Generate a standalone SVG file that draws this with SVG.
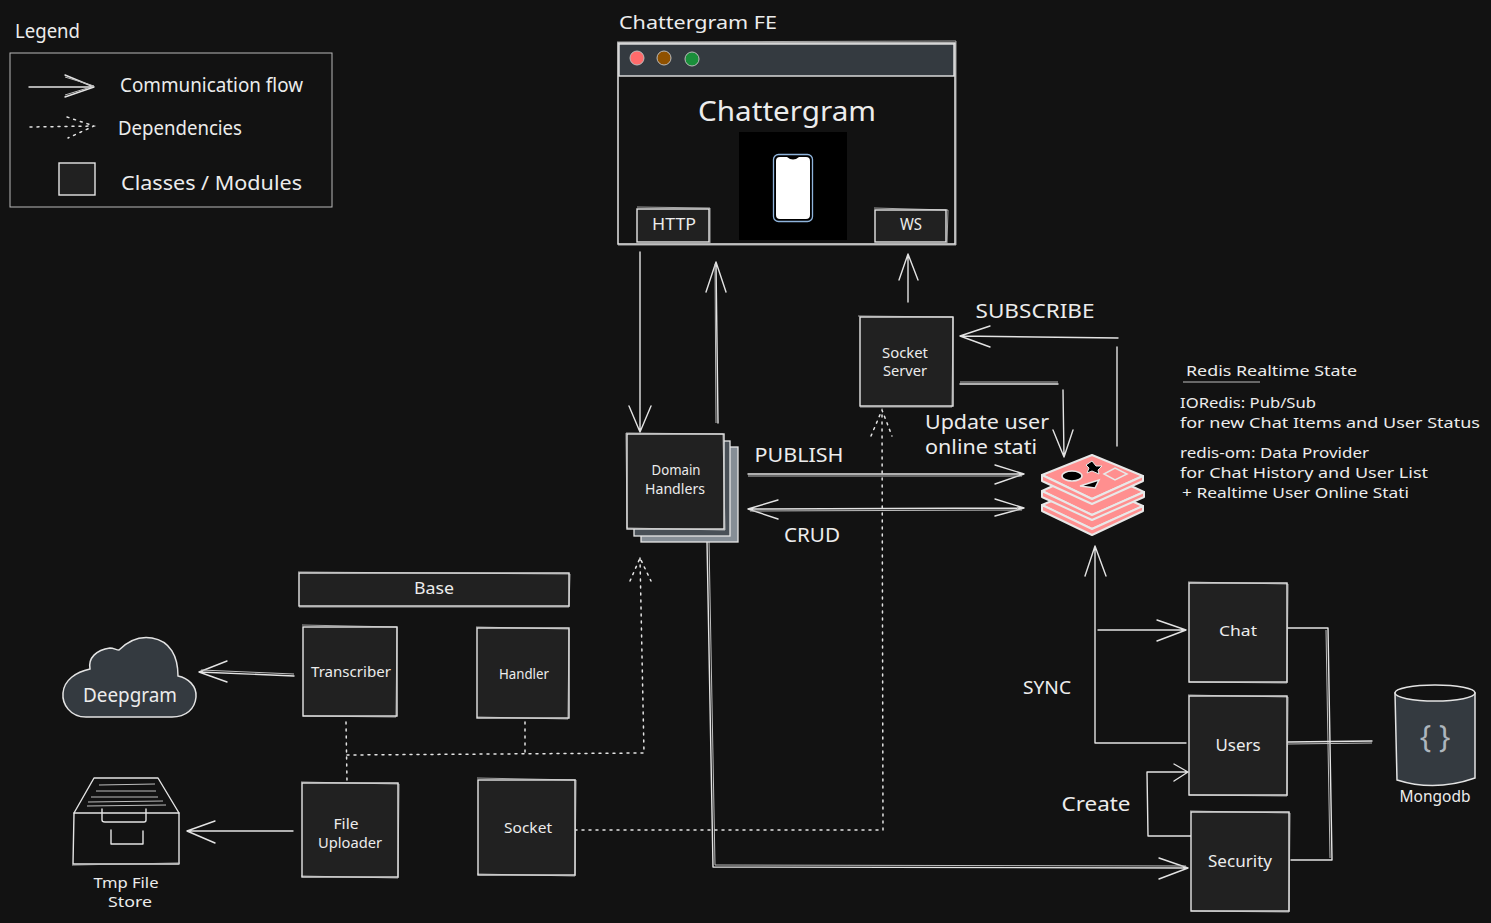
<svg xmlns="http://www.w3.org/2000/svg" width="1491" height="923" viewBox="0 0 1491 923">
<style>
text{font-family:"Noto Sans","Liberation Sans",sans-serif;fill:#ececec;font-size:17px;text-anchor:middle}
.l{text-anchor:start}
.n{font-size:15px}
.box{fill:#212121;stroke:#e6e6e6;stroke-width:1.4}
.sk{fill:none;stroke:#d8d8d8;stroke-width:1;opacity:.75}
.c{fill:none;stroke:#e3e3e3;stroke-width:1.4;stroke-linejoin:round;stroke-linecap:round}
.c2{fill:none;stroke:#bdbdbd;stroke-width:1;stroke-linejoin:round}
.d{fill:none;stroke:#e3e3e3;stroke-width:1.5;stroke-dasharray:2 5;stroke-linecap:round}
.ic{fill:#343a40;stroke:#e3e3e3;stroke-width:1.5}
.rp{fill:#ff8f8f;stroke:#e8e8e8;stroke-width:2;stroke-linejoin:round}
</style>
<rect width="1491" height="923" fill="#121212"/>

<g id="legend">
<text class="l" x="15" y="38" style="font-size:20px" textLength="65" lengthAdjust="spacingAndGlyphs">Legend</text>
<rect x="10" y="53" width="322" height="154" fill="none" stroke="#b8b8b8" stroke-width="1"/>
<path class="c" d="M29 87L94 87M65 75L94 87L65 97"/><path class="c2" d="M65 77L94 86L65 95"/>
<path class="d" d="M30 127L94 126M67 117L94 126L68 138"/>
<rect class="box" x="59" y="163" width="36" height="32"/>
<text class="l" x="120" y="92" style="font-size:20px" textLength="183" lengthAdjust="spacingAndGlyphs">Communication flow</text>
<text class="l" x="118" y="135" style="font-size:20px" textLength="124" lengthAdjust="spacingAndGlyphs">Dependencies</text>
<text class="l" x="121" y="190" style="font-size:20px" textLength="181" lengthAdjust="spacingAndGlyphs">Classes / Modules</text>
</g>

<g id="connectors">
<path class="c" d="M640 252L640 432M629 406L640 432L651 406"/>
<path class="c" d="M718 423L716 262M706 292L716 262L726 292"/><path class="c2" d="M716 423L715 264"/>
<path class="c" d="M908 302L908 254M899 280L908 254L918 280"/>
<path class="c" d="M1117 446L1117 347M1118 338L960 336M990 326L960 336L990 347"/>
<path class="c" d="M960 384L1058 384M1063 390L1064 457M1053 430L1064 457L1073 430"/>
<path class="c2" d="M960 382L1058 382"/>
<path class="c" d="M748 474L1024 474M995 465L1024 474L995 484"/><path class="c2" d="M748 476L1022 476"/>
<path class="c" d="M748 509L1024 508M778 500L748 509L778 519M995 499L1024 508L995 516"/><path class="c2" d="M750 511L1022 510"/>
<path class="c" d="M707 541L713 867L1188 868M1159 858L1188 868L1159 879"/><path class="c2" d="M709 541L715 865L1186 866"/>
<path class="d" d="M346 722L347 782M347 755L644 753L640 558M630 581L640 558L651 581M525 722L525 755"/>
<path class="d" d="M575 830L883 830L882 410M871 436L882 410L892 436"/>
<path class="c" d="M294 676L199 672M227 661L199 672L227 682"/><path class="c2" d="M294 674L201 670"/>
<path class="c" d="M293 831L187 831M215 821L187 831L215 843"/>
<path class="c" d="M1186 743L1095 743L1095 546M1085 576L1095 546L1106 576"/>
<path class="c" d="M1098 630L1186 630M1157 620L1186 630L1157 641"/>
<path class="c" d="M1288 628L1328 628L1332 860L1291 860"/><path class="c2" d="M1326 630L1330 858"/>
<path class="c" d="M1288 742L1372 741"/><path class="c2" d="M1288 744L1372 743"/>
<path class="c" d="M1191 836L1148 836L1147 772L1188 772M1174 764L1188 772L1174 781"/>
<path class="c2" d="M1183 382L1260 382"/>
</g>

<g id="chattergram-fe">
<rect x="618" y="43" width="337" height="201" fill="#121212" stroke="#e6e6e6" stroke-width="1.5"/>
<path class="sk" d="M617 42L956 41L956 245L618 245"/>
<rect x="619" y="44" width="335" height="32" fill="#343a40" stroke="#e6e6e6" stroke-width="1.4"/>
<circle cx="637" cy="58" r="7" fill="#ff6b6b" stroke="#bbb"/>
<circle cx="664" cy="58" r="7" fill="#8f5100" stroke="#bbb"/>
<circle cx="692" cy="59" r="7" fill="#1a8f3a" stroke="#bbb"/>
<text class="l" x="619" y="29" style="font-size:18px" textLength="158" lengthAdjust="spacingAndGlyphs">Chattergram FE</text>
<text x="787" y="121" style="font-size:28px" textLength="178" lengthAdjust="spacingAndGlyphs">Chattergram</text>
<rect x="739" y="132" width="108" height="108" fill="#000"/>
<rect x="773.500" y="154.500" width="39" height="67" rx="5" fill="#000" stroke="#8fb4dc" stroke-width="1.300"/>
<path d="M780 157H787Q793 162 799 157H806Q810 157 810 161V215Q810 219 806 219H780Q776 219 776 215V161Q776 157 780 157Z" fill="#fff"/>
</g>
<g id="http"><rect class="box" x="637" y="209" width="72" height="33"/><path class="sk" d="M637 207L710 208L710 243"/><text x="674" y="230" textLength="44" lengthAdjust="spacingAndGlyphs">HTTP</text></g>
<g id="ws"><rect class="box" x="875" y="210" width="71" height="32"/><path class="sk" d="M874 208L948 210L947 243"/><text x="911" y="230" textLength="22" lengthAdjust="spacingAndGlyphs">WS</text></g>

<g id="socket-server"><rect class="box" x="860" y="317" width="93" height="89"/><path class="sk" d="M858 316L953 317L952 407L860 407"/>
<text x="905" y="358" style="font-size:14px" textLength="46" lengthAdjust="spacingAndGlyphs">Socket</text><text x="905" y="376" style="font-size:14px" textLength="44" lengthAdjust="spacingAndGlyphs">Server</text></g>

<g id="domain-handlers">
<rect x="641" y="447" width="97" height="95" fill="#868e96" stroke="#e6e6e6" stroke-width="1.3"/>
<rect x="634" y="441" width="96" height="95" fill="#495057" stroke="#e6e6e6" stroke-width="1.3"/>
<rect class="box" x="627" y="434" width="97" height="95"/><path class="sk" d="M626 433L723 434L725 530L627 528Z"/>
<text x="676" y="475" style="font-size:15px" textLength="49" lengthAdjust="spacingAndGlyphs">Domain</text><text x="675" y="494" style="font-size:15px" textLength="60" lengthAdjust="spacingAndGlyphs">Handlers</text></g>

<g id="redis">
<path class="rp" d="M1042 505L1092 484L1143 506L1092 529Z"/>
<path class="rp" d="M1042 511L1092 535L1143 511L1143 506L1092 529L1042 505Z"/>
<path class="rp" d="M1042 491L1092 468L1144 492L1092 515Z"/>
<path class="rp" d="M1042 497L1092 520L1144 497L1144 492L1092 515L1042 491Z" fill="#ffa8a8"/>
<path class="rp" d="M1042 475L1092 455L1143 476L1092 499Z"/>
<path class="rp" d="M1042 481L1092 504L1143 481L1143 476L1092 499L1042 475Z" fill="#ffa8a8"/>
<ellipse cx="1072" cy="476" rx="10" ry="5" fill="#000" stroke="#e8e8e8" stroke-width="1.500"/>
<path d="M1092 461L1096 466L1102 466L1098 470L1099 474L1092 471L1087 473L1089 468L1086 465Z" fill="#000" stroke="#e8e8e8"/>
<path d="M1104 474L1115 468L1127 474L1115 480Z" fill="#ff8f8f" stroke="#e8e8e8" stroke-width="1.500"/>
<path d="M1080 486L1099 480L1095 488Z" fill="#000" stroke="#e8e8e8" stroke-width="1.500"/>
</g>

<g id="base"><rect class="box" x="299" y="573" width="270" height="33"/><path class="sk" d="M298 572L570 574L569 607L299 607"/><text x="434" y="594" textLength="40" lengthAdjust="spacingAndGlyphs">Base</text></g>
<g id="transcriber"><rect class="box" x="303" y="627" width="94" height="89"/><path class="sk" d="M302 625L397 627L396 717L303 716"/><text x="351" y="677" style="font-size:15px" textLength="80" lengthAdjust="spacingAndGlyphs">Transcriber</text></g>
<g id="handler"><rect class="box" x="477" y="628" width="92" height="90"/><path class="sk" d="M476 627L569 629L568 719L477 717"/><text x="524" y="679" style="font-size:14px" textLength="50" lengthAdjust="spacingAndGlyphs">Handler</text></g>
<g id="file-uploader"><rect class="box" x="302" y="783" width="96" height="94"/><path class="sk" d="M301 782L399 784L398 878L301 876"/><text x="346" y="829" style="font-size:15px" textLength="25" lengthAdjust="spacingAndGlyphs">File</text><text x="350" y="848" style="font-size:15px" textLength="64" lengthAdjust="spacingAndGlyphs">Uploader</text></g>
<g id="socket"><rect class="box" x="478" y="780" width="97" height="95"/><path class="sk" d="M477 778L576 780L575 876L477 874"/><text x="528" y="833" style="font-size:15px" textLength="48" lengthAdjust="spacingAndGlyphs">Socket</text></g>
<g id="chat"><rect class="box" x="1189" y="583" width="98" height="99"/><path class="sk" d="M1188 582L1288 584L1287 683L1189 682"/><text x="1238" y="636" style="font-size:15px" textLength="38" lengthAdjust="spacingAndGlyphs">Chat</text></g>
<g id="users"><rect class="box" x="1189" y="696" width="98" height="99"/><path class="sk" d="M1188 695L1288 697L1287 796L1189 795"/><text x="1238" y="751" textLength="45" lengthAdjust="spacingAndGlyphs">Users</text></g>
<g id="security"><rect class="box" x="1191" y="812" width="98" height="99"/><path class="sk" d="M1190 811L1290 813L1289 912L1191 911"/><text x="1240" y="867" textLength="64" lengthAdjust="spacingAndGlyphs">Security</text></g>

<g id="deepgram">
<path class="ic" d="M86 717C70 717 62 704 63 693C64 680 76 672 90 669C88 658 96 650 110 648C114 648 116 650 119 650C128 641 140 636 152 638C170 641 178 656 178 676C188 678 197 686 196 697C195 709 186 717 172 717Z"/>
<text x="130" y="702" style="font-size:19px" textLength="94" lengthAdjust="spacingAndGlyphs">Deepgram</text>
</g>

<g id="tmp-file-store">
<path class="c" d="M74 813L179 813L179 864L73 864Z"/><path class="c2" d="M72 865L180 863"/>
<path class="c" d="M74 813L94 778L158 778L179 813"/>
<path class="c2" d="M99 785L155 784M96 791L156 791M91 797L158 797M88 802L163 801M87 806L166 805"/>
<path class="c" d="M102 809L102 820Q102 822 105 822L144 822Q146 822 146 820L146 809"/>
<path class="c" d="M111 830L111 844L143 844L143 831"/>
<text x="126" y="888" style="font-size:15px" textLength="65" lengthAdjust="spacingAndGlyphs">Tmp File</text>
<text x="130" y="907" style="font-size:15px" textLength="44" lengthAdjust="spacingAndGlyphs">Store</text>
</g>

<g id="mongodb">
<path class="ic" d="M1395 693L1397 780Q1435 792 1475 778L1475 693Z"/>
<ellipse cx="1435" cy="693" rx="40" ry="8" fill="#121212" stroke="#e3e3e3" stroke-width="1.500"/>
<text x="1435" y="747" style="font-size:30px;fill:#adb5bd">{ }</text>
<text x="1435" y="802" style="font-size:16px" textLength="71" lengthAdjust="spacingAndGlyphs">Mongodb</text>
</g>

<g id="labels">
<text x="1035" y="318" style="font-size:20px" textLength="119" lengthAdjust="spacingAndGlyphs">SUBSCRIBE</text>
<text class="l" x="925" y="429" style="font-size:19px" textLength="124" lengthAdjust="spacingAndGlyphs">Update user</text>
<text class="l" x="925" y="454" style="font-size:19px" textLength="112" lengthAdjust="spacingAndGlyphs">online stati</text>
<text x="799" y="462" style="font-size:20px" textLength="89" lengthAdjust="spacingAndGlyphs">PUBLISH</text>
<text x="812" y="542" style="font-size:19px" textLength="56" lengthAdjust="spacingAndGlyphs">CRUD</text>
<text x="1047" y="694" style="font-size:18px" textLength="48" lengthAdjust="spacingAndGlyphs">SYNC</text>
<text x="1096" y="811" style="font-size:20px" textLength="69" lengthAdjust="spacingAndGlyphs">Create</text>
<text class="l n" x="1186" y="376" textLength="171" lengthAdjust="spacingAndGlyphs">Redis Realtime State</text>
<text class="l n" x="1180" y="408" textLength="136" lengthAdjust="spacingAndGlyphs">IORedis: Pub/Sub</text>
<text class="l n" x="1180" y="428" textLength="300" lengthAdjust="spacingAndGlyphs">for new Chat Items and User Status</text>
<text class="l n" x="1180" y="458" textLength="189" lengthAdjust="spacingAndGlyphs">redis-om: Data Provider</text>
<text class="l n" x="1180" y="478" textLength="248" lengthAdjust="spacingAndGlyphs">for Chat History and User List</text>
<text class="l n" x="1182" y="498" textLength="227" lengthAdjust="spacingAndGlyphs">+ Realtime User Online Stati</text>
</g>
</svg>
